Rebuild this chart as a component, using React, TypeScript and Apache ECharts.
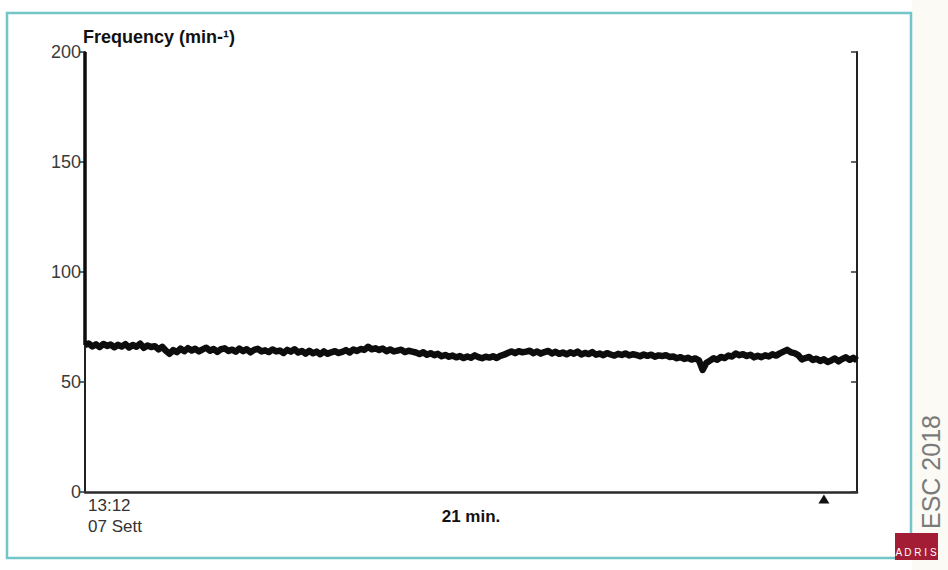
import React, { useEffect, useRef } from "react";
import * as echarts from "echarts";

// time in minutes (0..21, step 0.1) and heart rate values
const startSpike: [number, number][] = [[0, 200], [0, 66.8]];
const rateValues: number[] = [
  66.8, 67.5, 66.2, 67.1, 65.9, 67.3, 66.4, 67.0, 65.8, 66.9,
  66.1, 67.2, 65.7, 66.8, 66.0, 67.4, 65.5, 66.6, 65.9, 66.3,
  64.8, 66.0, 64.2, 62.8, 64.5, 63.6, 65.2, 64.0, 65.4, 64.3,
  65.1, 63.9, 64.8, 65.6, 64.2, 65.0, 63.7, 64.9, 65.3, 64.1,
  64.7, 63.8, 65.2, 64.0, 64.9, 63.5, 64.6, 65.1, 63.9, 64.4,
  63.6, 64.8, 63.9, 64.3, 63.2, 64.6, 63.8, 64.9, 63.4, 64.1,
  62.9, 64.2, 63.1, 63.8, 62.6, 63.9, 62.8, 63.5, 64.0, 63.2,
  63.7, 64.5, 63.4, 64.8, 64.1, 65.0, 64.6, 66.0, 64.9, 65.3,
  64.6, 65.2, 64.0, 64.8, 63.9, 64.3, 64.7, 63.6, 64.2, 63.8,
  63.4, 62.7, 63.5, 62.4, 63.1, 62.2, 62.8, 61.7, 62.3, 61.5,
  62.0, 61.2, 61.8, 60.9, 61.6, 61.0, 62.1, 61.3, 60.8, 61.5,
  61.1, 61.7, 60.9, 61.9, 62.4, 63.2, 63.9, 63.1, 64.0, 63.5,
  63.8, 64.2, 63.1, 63.9, 62.9, 63.6, 64.1, 63.0, 63.7, 62.8,
  63.4, 62.6, 63.5, 62.9, 63.8, 62.5, 63.2, 62.7, 63.6, 62.4,
  62.9, 62.2, 63.1, 62.5, 62.0, 62.8, 62.3, 63.0, 62.1, 62.6,
  62.3, 61.7, 62.5, 61.9, 62.4, 61.5, 62.1, 61.8, 62.2, 61.4,
  61.6, 60.8, 61.3, 60.5, 61.0, 60.2, 60.7, 59.8, 55.5, 58.6,
  59.7, 60.8, 60.1, 61.4, 60.9, 62.0, 61.6, 62.9, 62.2, 62.6,
  61.8, 62.4, 61.2, 61.9, 61.3, 62.1, 61.6, 62.6, 62.0, 63.0,
  63.8, 64.6, 63.5, 63.1, 62.2, 60.3, 60.9, 61.4, 60.0, 60.6,
  59.6, 60.3, 59.1, 59.8, 60.7, 59.4, 60.5, 61.2, 60.1, 61.0,
  59.8,
];
const timeStep = 0.1;
const yTicks = [0, 50, 100, 150, 200];
const eventMarkerTime = 20.1;
const titleText = "Frequency (min-¹)";
const startTimeLabel = "13:12";
const startDateLabel = "07 Sett";
const durationLabel = "21 min.";
const sourceLabel = "ESC 2018";
const logoLabel = "A D R I S";

export default function App() {
  const ref = useRef<HTMLDivElement>(null);
  useEffect(() => {
    if (!ref.current) return;
    const chart = echarts.init(ref.current, null, { renderer: "svg" });
    const trace: [number, number][] = rateValues.map(
      (v, i) => [Math.round(i * timeStep * 10) / 10, v] as [number, number]
    );
    const font = "'Liberation Sans', Arial, sans-serif";
    chart.setOption({
      animation: false,
      backgroundColor: "#ffffff",
      grid: { left: 85, right: 91, top: 52, bottom: 78, containLabel: false },
      xAxis: {
        type: "value",
        min: 0,
        max: 21,
        axisLine: { show: true, onZero: false, lineStyle: { color: "#2a2a2a", width: 2.5 } },
        axisTick: { show: false },
        axisLabel: { show: false },
        splitLine: { show: false },
      },
      yAxis: [
        {
          type: "value",
          min: yTicks[0],
          max: yTicks[yTicks.length - 1],
          interval: 50,
          position: "left",
          axisLine: { show: true, onZero: false, lineStyle: { color: "#222", width: 2 } },
          axisTick: { show: true, length: 5, lineStyle: { color: "#333", width: 1.5 } },
          axisLabel: { show: true, color: "#3a3a3a", fontSize: 18, fontFamily: font, margin: 4 },
          splitLine: { show: false },
        },
        {
          type: "value",
          min: yTicks[0],
          max: yTicks[yTicks.length - 1],
          interval: 50,
          position: "right",
          axisLine: { show: true, onZero: false, lineStyle: { color: "#222", width: 2 } },
          axisTick: { show: true, inside: true, length: 6, lineStyle: { color: "#333", width: 1.5 } },
          axisLabel: { show: false },
          splitLine: { show: false },
        },
      ],
      series: [
        {
          type: "line",
          data: startSpike,
          yAxisIndex: 0,
          showSymbol: false,
          symbol: "none",
          lineStyle: { color: "#0d0d0d", width: 3.5 },
        },
        {
          type: "line",
          data: trace,
          yAxisIndex: 0,
          showSymbol: false,
          symbol: "none",
          lineStyle: { color: "#0d0d0d", width: 6.5, join: "round" },
          markPoint: {
            symbol: "triangle",
            symbolSize: [11, 9],
            symbolOffset: [0, 7],
            itemStyle: { color: "#111" },
            label: { show: false },
            data: [{ coord: [eventMarkerTime, 0] }],
          },
        },
      ],
      graphic: [
        {
          type: "rect",
          shape: { x: 912, y: 0, width: 36, height: 570 },
          style: { fill: "#fbfaf5" },
          silent: true,
        },
        {
          type: "rect",
          shape: { x: 7, y: 13, width: 904, height: 545 },
          style: { fill: "none", stroke: "#72c6c8", lineWidth: 2.5 },
          silent: true,
        },
        {
          type: "text",
          x: 83,
          y: 28,
          style: { text: titleText, font: `bold 18px ${font}`, fill: "#111" },
        },
        {
          type: "text",
          x: 88,
          y: 497,
          style: { text: startTimeLabel, font: `17px ${font}`, fill: "#333" },
        },
        {
          type: "text",
          x: 88,
          y: 518,
          style: { text: startDateLabel, font: `17px ${font}`, fill: "#333" },
        },
        {
          type: "text",
          x: 471,
          y: 508,
          style: { text: durationLabel, font: `bold 17px ${font}`, fill: "#111", align: "center" },
        },
        {
          type: "text",
          x: 931,
          y: 472,
          rotation: Math.PI / 2,
          style: {
            text: sourceLabel,
            font: `25px ${font}`,
            fill: "#7a7a7a",
            align: "center",
            verticalAlign: "middle",
          },
        },
        {
          type: "rect",
          shape: { x: 895, y: 533, width: 43, height: 27 },
          style: { fill: "#a31d35" },
        },
        {
          type: "text",
          x: 916,
          y: 547,
          style: { text: logoLabel, font: `10px ${font}`, fill: "#ffffff", align: "center" },
        },
      ],
    });
    return () => chart.dispose();
  }, []);
  return (
    <div
      ref={ref}
      style={{ position: "fixed", left: 0, top: 0, width: 948, height: 570 }}
    />
  );
}
